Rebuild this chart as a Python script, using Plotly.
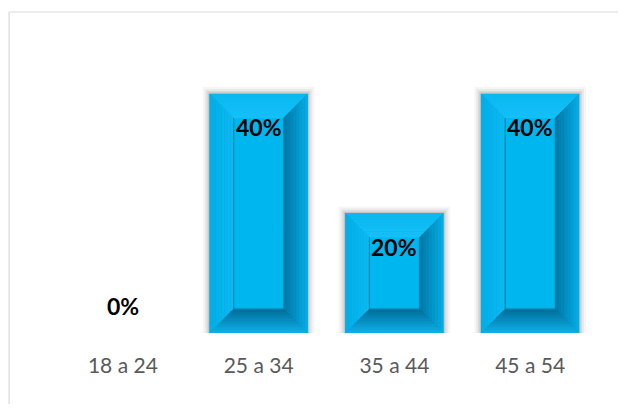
import plotly.graph_objects as go

# ---- data ----
categories = ["18 a 24", "25 a 34", "35 a 44", "45 a 54"]
values = [0.0, 0.40, 0.20, 0.40]
labels = ["0%", "40%", "20%", "40%"]

# ---- style / geometry ----
# page body has an 8px margin, so the figure is made smaller than the window
W, H = 618, 396
ML, MR, MT, MB = 46.5, 27.5, 56, 71
PW, PH = W - ML - MR, H - MT - MB
XR = (-0.5, 3.5)
YR = (0.0, 0.4502)
PX_X = PW / (XR[1] - XR[0])   # px per x unit
PX_Y = PH / (YR[1] - YR[0])   # px per y unit
BAR_W = 98 / PX_X
BEV_X = 24 / PX_X
BEV_Y = 24 / PX_Y
N = 8


def hex2rgb(h):
    h = h.lstrip("#")
    return tuple(int(h[i:i + 2], 16) for i in (0, 2, 4))


def lerp(c0, c1, t):
    a, b = hex2rgb(c0), hex2rgb(c1)
    return "rgb(%d,%d,%d)" % tuple(round(a[i] + (b[i] - a[i]) * t) for i in range(3))


face_cols = {
    "top": ("#0AB8F0", "#14C0F8"),
    "left": ("#02AEE8", "#0CBAF2"),
    "right": ("#04B0E8", "#0076A4"),
    "bottom": ("#0EB2EA", "#006C98"),
}
INNER = "#00B6EF"

fig = go.Figure()


def rect_at(i, t):
    v = values[i]
    L = i - BAR_W / 2 + BEV_X * t
    R = i + BAR_W / 2 - BEV_X * t
    B = 0 + BEV_Y * t
    T = v - BEV_Y * t
    return L, R, B, T


# base bars (outer rectangle) via library bars
fig.add_trace(go.Bar(x=list(range(len(values))), y=values, width=BAR_W,
                     marker=dict(color=INNER, line=dict(width=0)),
                     hoverinfo="skip", showlegend=False))

# soft shadows
for k, alpha in [(7, 0.035), (5, 0.05), (3, 0.07), (1.5, 0.09)]:
    xs, ys = [], []
    for i, v in enumerate(values):
        if v <= 0:
            continue
        dx = k / PX_X
        dy = k / PX_Y
        L, R = i - BAR_W / 2 - dx, i + BAR_W / 2 + dx
        T = v + dy
        xs += [L, R, R, L, L, None]
        ys += [0, 0, T, T, 0, None]
    fig.add_trace(go.Scatter(x=xs, y=ys, fill="toself", mode="none",
                             fillcolor="rgba(0,0,0,%g)" % alpha,
                             hoverinfo="skip", showlegend=False))

# inner face (drawn above shadows)
xs, ys = [], []
for i, v in enumerate(values):
    if v <= 0:
        continue
    L, R, B, T = rect_at(i, 1)
    xs += [L, R, R, L, L, None]
    ys += [B, B, T, T, B, None]
fig.add_trace(go.Scatter(x=xs, y=ys, fill="toself", mode="lines",
                         line=dict(width=0.5, color=INNER), fillcolor=INNER,
                         hoverinfo="skip", showlegend=False))

# bevel faces
for face in ["top", "left", "right", "bottom"]:
    c0, c1 = face_cols[face]
    for s in range(N):
        t0, t1 = s / N, (s + 1) / N
        xs, ys = [], []
        for i, v in enumerate(values):
            if v <= 0:
                continue
            L0, R0, B0, T0 = rect_at(i, t0)
            L1, R1, B1, T1 = rect_at(i, t1)
            if face == "top":
                px = [L0, R0, R1, L1, L0]
                py = [T0, T0, T1, T1, T0]
            elif face == "bottom":
                px = [L0, R0, R1, L1, L0]
                py = [B0, B0, B1, B1, B0]
            elif face == "left":
                px = [L0, L1, L1, L0, L0]
                py = [B0, B1, T1, T0, B0]
            else:
                px = [R0, R1, R1, R0, R0]
                py = [B0, B1, T1, T0, B0]
            xs += px + [None]
            ys += py + [None]
        col = lerp(c0, c1, (t0 + t1) / 2)
        fig.add_trace(go.Scatter(x=xs, y=ys, fill="toself", mode="lines",
                                 line=dict(width=0.5, color=col), fillcolor=col,
                                 hoverinfo="skip", showlegend=False))

# inner rectangle edge lines (dark left/bottom)
xs, ys = [], []
for i, v in enumerate(values):
    if v <= 0:
        continue
    L, R, B, T = rect_at(i, 1)
    xs += [L, L, R, None]
    ys += [T, B, B, None]
fig.add_trace(go.Scatter(x=xs, y=ys, mode="lines",
                         line=dict(width=1.2, color="#0A86B2"),
                         hoverinfo="skip", showlegend=False))

# data labels
for i, (v, lab) in enumerate(zip(values, labels)):
    fig.add_annotation(x=i, y=v, text="<b>%s</b>" % lab, showarrow=False,
                       xanchor="center", yanchor="middle",
                       yshift=(-33 if v > 0 else 27),
                       font=dict(family="Lato", size=23, color="#000000"))

# chart border (only top and left edges are visible in the frame)
bx0 = (0.5 - ML) / PW
bx1 = (W - 0.5 - ML) / PW
by1 = (MT + PH - 4) / PH
by0 = -(H - (MT + PH)) / PH
fig.add_shape(type="line", xref="paper", yref="paper",
              x0=bx0, x1=bx1, y0=by1, y1=by1,
              line=dict(color="#D9D9D9", width=1.2), layer="below")
fig.add_shape(type="line", xref="paper", yref="paper",
              x0=bx0, x1=bx0, y0=by1, y1=by0,
              line=dict(color="#D9D9D9", width=1.2), layer="below")

fig.update_layout(
    width=W, height=H,
    margin=dict(l=ML, r=MR, t=MT, b=MB, pad=0),
    paper_bgcolor="#FFFFFF", plot_bgcolor="#FFFFFF",
    showlegend=False,
    xaxis=dict(range=list(XR), tickvals=list(range(len(categories))),
               ticktext=categories, showgrid=False, zeroline=False,
               showline=False, ticks="", ticklabelstandoff=18,
               tickfont=dict(family="Lato", size=21, color="#595959"),
               fixedrange=True),
    yaxis=dict(range=list(YR), visible=False, showgrid=False, zeroline=False,
               fixedrange=True),
)

fig.write_html("out.html")
